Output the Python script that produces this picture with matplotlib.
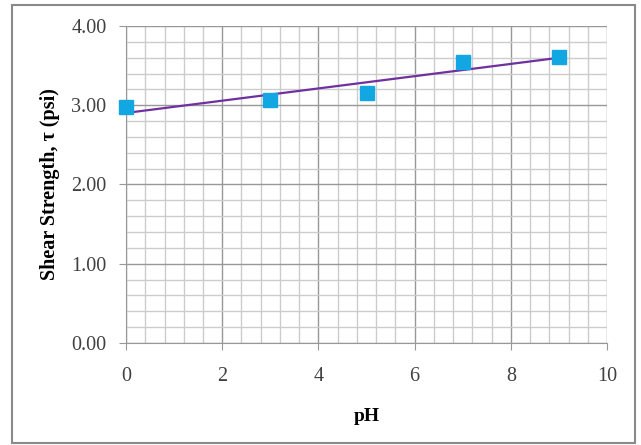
import matplotlib
matplotlib.use('Agg')
import matplotlib.pyplot as plt
from matplotlib.patches import Rectangle
from matplotlib.ticker import MultipleLocator
import numpy as np

# data
ph = [0, 3, 5, 7, 9]
shear = [2.98, 3.07, 3.16, 3.55, 3.61]

plt.rcParams['font.family'] = ['Liberation Serif', 'DejaVu Serif']

fig = plt.figure(figsize=(6.41, 4.45), dpi=100)
ax = fig.add_axes([0.1966, 0.2292, 0.7504, 0.7124])

# linear trend line through the points
slope, icpt = np.polyfit(ph, shear, 1)
xfit = np.array([min(ph), max(ph)])
ax.plot(xfit, slope * xfit + icpt, color='#7030a0', lw=1.6, zorder=3)
ax.plot(ph, shear, 's', color='#12a6e3', markersize=9.5, zorder=4, clip_on=False)

ax.set_xlim(0, 10)
ax.set_ylim(0, 4)
ax.xaxis.set_major_locator(MultipleLocator(2))
ax.xaxis.set_minor_locator(MultipleLocator(0.4))
ax.yaxis.set_major_locator(MultipleLocator(1))
ax.yaxis.set_minor_locator(MultipleLocator(0.2))
ax.yaxis.set_major_formatter(lambda v, p: '%.2f' % v)

ax.grid(which='major', color='#989898', lw=1.0)
ax.grid(which='minor', color='#cccccc', lw=1.0)
ax.set_axisbelow(True)

for s in ax.spines.values():
    s.set_visible(False)
ax.spines['left'].set_visible(True)
ax.spines['bottom'].set_visible(True)
ax.spines['left'].set_color('#989898')
ax.spines['bottom'].set_color('#989898')

ax.tick_params(which='major', length=5, color='#989898', labelsize=14.5,
               labelcolor='#404040', pad=9)
ax.tick_params(which='minor', length=0)
ax.tick_params(axis='x', pad=12)

ax.set_xlabel('pH', fontsize=14, fontweight='bold', labelpad=16)
ax.set_ylabel('Shear Strength, \u03c4 (psi)', fontsize=14.5, fontweight='bold', labelpad=8)

# outer chart border
fig.patches.append(Rectangle((12 / 641, 2 / 445), 623 / 641, 438 / 445,
                             transform=fig.transFigure, fill=False,
                             edgecolor='#8a8a8a', lw=1.5))

fig.savefig('out.png', dpi=100)
